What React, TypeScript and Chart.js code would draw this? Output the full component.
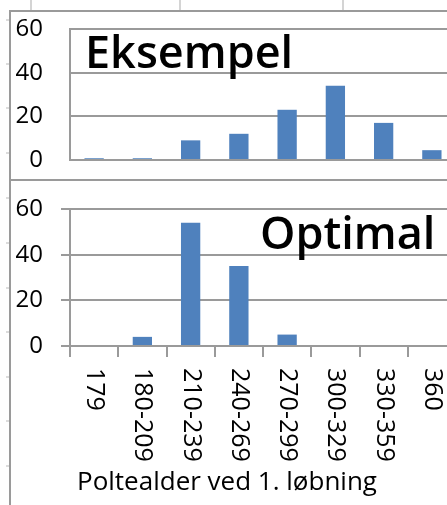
import React, { useEffect, useRef } from "react";
import { Chart, registerables } from "chart.js";

Chart.register(...registerables);

// ---- Data ----
const categories = ["179", "180-209", "210-239", "240-269", "270-299", "300-329", "330-359", "360"];
const eksempelValues = [0.8, 0.8, 9, 12, 23, 34, 17, 4.5];
const optimalValues = [0, 4, 54, 35, 5, 0, 0, 0];
const yTickValues = [0, 20, 40, 60];
const topTitle = "Eksempel";
const bottomTitle = "Optimal";
const xAxisTitle = "Poltealder ved 1. løbning";

// ---- Styles ----
const FONT = "'Open Sans', 'Noto Sans', sans-serif";
const GRID = "#9a9a9a";
const BAR = "#4F81BD";
const TEXT = "#000000";

function makeConfig(isBottom: boolean, values: number[], title: string, xAxisHeight: number) {
  const overlay = {
    id: "overlay",
    afterDraw(chart: any) {
      const { ctx, chartArea } = chart;
      const xs = chart.scales.x;
      ctx.save();
      ctx.fillStyle = TEXT;
      ctx.textAlign = "left";
      ctx.textBaseline = "alphabetic";
      ctx.font = `600 45px ${FONT}`;
      if (isBottom) ctx.fillText(title, chartArea.left + 190, chartArea.top + 40);
      else ctx.fillText(title, chartArea.left + 15, chartArea.top + 39);
      if (isBottom) {
        ctx.font = `25px ${FONT}`;
        ctx.textBaseline = "middle";
        categories.forEach((c, i) => {
          const x = xs.getPixelForTick(i);
          ctx.save();
          ctx.translate(x, xs.top + 22);
          ctx.rotate(Math.PI / 2);
          ctx.fillText(c, 0, 0);
          ctx.restore();
        });
        ctx.font = `26px ${FONT}`;
        ctx.textBaseline = "alphabetic";
        ctx.fillText(xAxisTitle, chartArea.left + 7, xs.top + 144);
      }
      ctx.restore();
    },
  };

  return {
    type: "bar" as const,
    data: {
      labels: categories,
      datasets: [
        {
          data: values,
          backgroundColor: BAR,
          borderWidth: 0,
          barPercentage: 0.4,
          categoryPercentage: 1,
        },
      ],
    },
    options: {
      animation: false as const,
      responsive: false,
      devicePixelRatio: 1,
      layout: { padding: { top: isBottom ? 28 : 17, right: 15, left: 0, bottom: 0 } },
      plugins: { legend: { display: false }, tooltip: { enabled: false }, title: { display: false } },
      scales: {
        x: {
          type: "category" as const,
          offset: true,
          z: isBottom ? 1 : 0,
          afterFit: (s: any) => {
            s.height = xAxisHeight;
            s.paddingLeft = 0;
            s.paddingRight = 0;
          },
          ticks: { display: false },
          grid: isBottom
            ? {
                display: true,
                drawOnChartArea: false,
                drawTicks: true,
                tickLength: 11,
                color: GRID,
                lineWidth: 2,
                offset: true,
              }
            : { display: false },
          border: { display: true, color: GRID, width: 2 },
        },
        y: {
          min: 0,
          max: 60,
          afterFit: (s: any) => {
            s.width = 59;
            s.paddingTop = 0;
            s.paddingBottom = 0;
          },
          afterBuildTicks: (s: any) => {
            s.ticks = yTickValues.map((v) => ({ value: v }));
          },
          ticks: {
            color: TEXT,
            font: { family: FONT, size: 24 },
            padding: isBottom ? 18 : 27,
          },
          grid: {
            color: GRID,
            lineWidth: 2,
            drawTicks: isBottom,
            tickLength: 9,
          },
          border: { display: true, color: GRID, width: 2 },
        },
      },
    },
    plugins: [overlay],
  };
}

function BarPanel(props: {
  isBottom: boolean;
  values: number[];
  title: string;
  left: number;
  top: number;
  width: number;
  height: number;
  xAxisHeight: number;
}) {
  const ref = useRef<HTMLCanvasElement>(null);
  useEffect(() => {
    const chart = new Chart(
      ref.current as HTMLCanvasElement,
      makeConfig(props.isBottom, props.values, props.title, props.xAxisHeight) as any
    );
    return () => chart.destroy();
  }, []);
  return (
    <canvas
      ref={ref}
      width={props.width}
      height={props.height}
      style={{
        position: "absolute",
        left: props.left,
        top: props.top,
        width: props.width,
        height: props.height,
        display: "block",
      }}
    />
  );
}

const rowMarks = [19, 63, 107, 152, 197, 242, 287, 331, 376, 420, 465];
const colMarks = [31, 180, 343];

export default function App() {
  return (
    <div
      style={{
        position: "fixed",
        left: 0,
        top: 0,
        width: 447,
        height: 505,
        overflow: "hidden",
        background: "#ffffff",
      }}
    >
      {colMarks.map((x) => (
        <div key={"c" + x} style={{ position: "absolute", left: x - 1, top: 0, width: 2, height: 10, background: "#d4d4d4" }} />
      ))}
      {rowMarks.map((y) => (
        <div key={"r" + y} style={{ position: "absolute", left: 6, top: y, width: 3, height: 2, background: "#dcdcdc" }} />
      ))}
      <div style={{ position: "absolute", left: 9, top: 10, width: 2, height: 495, background: GRID }} />
      <div style={{ position: "absolute", left: 9, top: 10, width: 438, height: 2, background: GRID }} />
      <div style={{ position: "absolute", left: 9, top: 179, width: 438, height: 2, background: GRID }} />
      <BarPanel isBottom={false} values={eksempelValues} title={topTitle} left={11} top={12} width={460} height={167} xAxisHeight={19} />
      <BarPanel isBottom={true} values={optimalValues} title={bottomTitle} left={11} top={181} width={460} height={324} xAxisHeight={159} />
    </div>
  );
}
